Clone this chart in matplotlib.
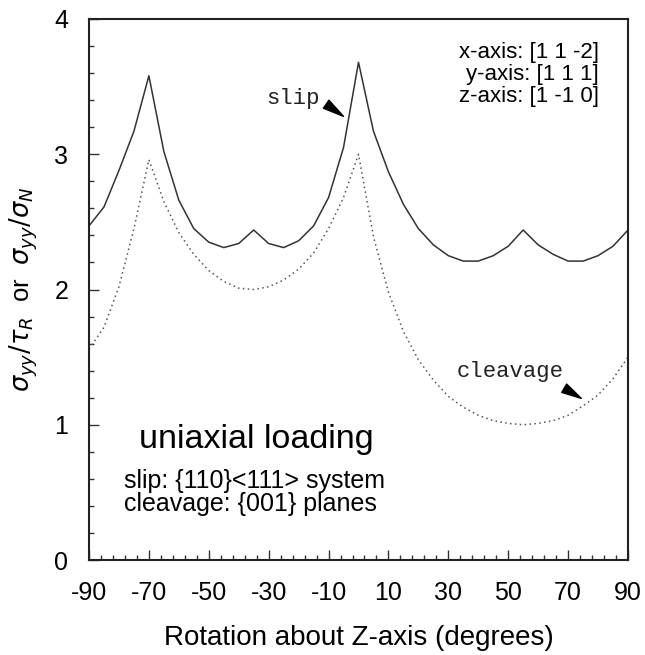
import numpy as np
import matplotlib
matplotlib.use("Agg")
import matplotlib.pyplot as plt
from matplotlib.ticker import MultipleLocator, FixedLocator

plt.rcParams['font.family'] = ['Liberation Sans', 'DejaVu Sans']
plt.rcParams['mathtext.fontset'] = 'dejavusans'
plt.rcParams['axes.unicode_minus'] = False

# rotation angle about Z (degrees), read every 5 deg
angle = list(range(-90, 91, 5))

# sigma_yy / tau_R  ({110}<111> slip)
slip = [2.47, 2.61, 2.88, 3.17, 3.58, 3.02, 2.66, 2.45, 2.35, 2.31,
        2.34, 2.44, 2.34, 2.31, 2.36, 2.47, 2.68, 3.05, 3.68, 3.17,
        2.87, 2.63, 2.45, 2.33, 2.25, 2.21, 2.21, 2.25, 2.32, 2.44,
        2.33, 2.26, 2.21, 2.21, 2.25, 2.32, 2.44]

# sigma_yy / sigma_N  ({001} cleavage)
cleavage = [1.56, 1.72, 2.02, 2.45, 2.96, 2.65, 2.42, 2.26, 2.14, 2.06,
            2.01, 2.00, 2.02, 2.07, 2.15, 2.27, 2.45, 2.68, 3.00, 2.39,
            1.98, 1.69, 1.48, 1.33, 1.21, 1.13, 1.07, 1.03, 1.01, 1.00,
            1.01, 1.03, 1.07, 1.14, 1.22, 1.34, 1.50]

xticks = [-90, -70, -50, -30, -10, 10, 30, 50, 70, 90]
orient = ["x-axis: [1 1 -2]", "y-axis: [1 1 1]", "z-axis: [1 -1 0]"]

fig = plt.figure(figsize=(6.45, 6.55), dpi=100)
ax = fig.add_axes([89/645, 95/655, 539/645, 541/655])

ax.plot(angle, slip, color='#333333', lw=1.1)
ax.plot(angle, cleavage, color='#555555', lw=1.1, ls=(0, (1, 2.2)))

ax.set_xlim(-90, 90)
ax.set_ylim(0, 4)
ax.set_xticks(xticks)
ax.xaxis.set_minor_locator(FixedLocator(np.arange(-90, 91, 4)))
ax.yaxis.set_major_locator(MultipleLocator(1))
ax.yaxis.set_minor_locator(MultipleLocator(0.2))
ax.tick_params(which='both', direction='in', top=False, right=False,
               labelsize=18, width=1, color='#333333')
ax.tick_params(which='major', length=7, pad=15)
ax.tick_params(which='minor', length=3.5)
for s in ax.spines.values():
    s.set_linewidth(1.5)
    s.set_color('#222222')

ax.set_xlabel("Rotation about Z-axis (degrees)", fontsize=20)
ax.xaxis.set_label_coords(0.5, -0.12)
ax.set_ylabel(r"$\sigma_{yy}/\tau_R$  or  $\sigma_{yy}/\sigma_N$", fontsize=18.5)
ax.yaxis.set_label_coords(-0.09, 0.5)

for i, t in enumerate(orient):
    ax.text(80.3, 3.756 - 0.163 * i, t, ha='right', va='center', fontsize=16)

ax.text(-73.3, 0.83, "uniaxial loading", fontsize=24.5, va='baseline')
ax.text(-78.3, 0.535, "slip: {110}<111> system", fontsize=18, va='baseline')
ax.text(-78.3, 0.36, "cleavage: {001} planes", fontsize=18, va='baseline')

mono = dict(family='Liberation Mono', fontsize=16, color='#222222')
ax.text(-21.8, 3.41, "slip", ha='center', va='center', **mono)
ax.annotate("", xy=(-5.0, 3.28), xytext=(-10.8, 3.37),
            arrowprops=dict(arrowstyle='wedge,tail_width=0.5', color='black',
                            shrinkA=0, shrinkB=0, mutation_scale=14))
ax.text(50.6, 1.395, "cleavage", ha='center', va='center', **mono)
ax.annotate("", xy=(74.4, 1.195), xytext=(68.7, 1.27),
            arrowprops=dict(arrowstyle='wedge,tail_width=0.5', color='black',
                            shrinkA=0, shrinkB=0, mutation_scale=14))

fig.savefig("out.png", dpi=100)
